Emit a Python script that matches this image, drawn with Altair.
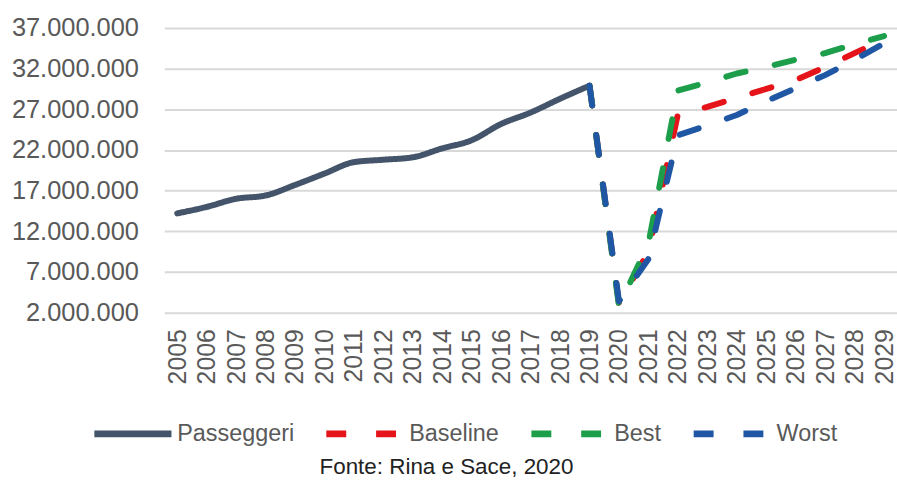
import altair as alt
import pandas as pd

# Passenger traffic, historical series 2005-2019
years_hist = list(range(2005, 2020))
passeggeri = [14200000, 15000000, 16000000, 16400000, 17700000, 19100000, 20500000,
              20800000, 21100000, 22200000, 23200000, 25200000, 26600000, 28300000, 29900000]

# Scenario projections 2019-2029
years_scen = list(range(2019, 2030))
baseline = [29900000, 3100000, 9500000, 26400000, 27300000, 28400000, 29500000,
            30600000, 32200000, 33900000, 35600000]
best = [29900000, 2800000, 10500000, 29300000, 30300000, 31400000, 32200000,
        33100000, 33900000, 35000000, 36000000]
worst = [29900000, 3400000, 8600000, 23800000, 25000000, 26300000, 28000000,
         29600000, 31200000, 33100000, 35100000]

all_years = [str(y) for y in range(2005, 2030)]
series_names = ["Passeggeri", "Baseline", "Best", "Worst"]
series_colors = ["#44546A", "#E5141B", "#1C9E4B", "#1F57A4"]
series_dash = [[1, 0], [20, 30], [20, 30], [20, 30]]
y_ticks = [2000000, 7000000, 12000000, 17000000, 22000000, 27000000, 32000000, 37000000]
source_note = "Fonte: Rina e Sace, 2020"

rows = [{"anno": str(y), "valore": v, "serie": "Passeggeri"} for y, v in zip(years_hist, passeggeri)]
for name, vals in [("Baseline", baseline), ("Best", best), ("Worst", worst)]:
    rows += [{"anno": str(y), "valore": v, "serie": name} for y, v in zip(years_scen, vals)]
df = pd.DataFrame(rows)

# the source note is carried by the x-axis title, placed under the legend
x_enc = alt.X(
    "anno:O",
    scale=alt.Scale(type="point", domain=all_years, padding=0.44),
    axis=alt.Axis(title=source_note, titleX=283, titleY=155, titleAlign="center",
                  titleBaseline="middle", titleFontSize=22.5, titleFont="Liberation Sans",
                  titleFontWeight="normal", titleColor="#222222",
                  labelAngle=270, labelFontSize=25, labelColor="#595959",
                  labelFont="Liberation Sans", labelPadding=16, domain=False, ticks=False,
                  grid=False),
)
y_enc = alt.Y(
    "valore:Q",
    scale=alt.Scale(domain=[2000000, 37000000], nice=False, zero=False),
    axis=alt.Axis(title=None, values=y_ticks, labelFontSize=25.5, labelColor="#595959",
                  labelFont="Liberation Sans", labelPadding=26, domain=False, ticks=False,
                  gridColor="#D9D9D9", gridWidth=2,
                  labelExpr="format(datum.value / 1000000, '.0f') + '.000.000'"),
)


def make_legend():
    return alt.Legend(title=None, orient="none", direction="horizontal",
                      legendX=-74, legendY=365, symbolType="stroke", symbolSize=6000,
                      symbolStrokeWidth=7, labelFontSize=23.5, labelColor="#595959",
                      labelFont="Liberation Sans", columnPadding=17, labelOffset=2)


color_enc = alt.Color("serie:N", scale=alt.Scale(domain=series_names, range=series_colors),
                      legend=make_legend())
dash_enc = alt.StrokeDash("serie:N", scale=alt.Scale(domain=series_names, range=series_dash),
                          legend=make_legend())

base = alt.Chart(df)

hist = base.transform_filter(alt.datum.serie == "Passeggeri").mark_line(
    strokeWidth=6, interpolate="monotone", strokeCap="round", strokeJoin="round"
).encode(x=x_enc, y=y_enc, color=color_enc, strokeDash=dash_enc)

layers = [hist]
for name in ["Baseline", "Best", "Worst"]:
    layers.append(
        base.transform_filter(alt.datum.serie == name).mark_line(
            strokeWidth=6, strokeCap="round", strokeJoin="round"
        ).encode(x=x_enc, y=y_enc, color=color_enc, strokeDash=dash_enc)
    )

chart = alt.layer(*layers).properties(
    width=736,
    height=286,
    autosize=alt.AutoSizeParams(type="none"),
    padding={"left": 165, "top": 27, "right": 0, "bottom": 167},
).configure_view(stroke=None).configure_legend(padding=0)

chart.save("out.html", embed_options={"renderer": "svg", "actions": False})
